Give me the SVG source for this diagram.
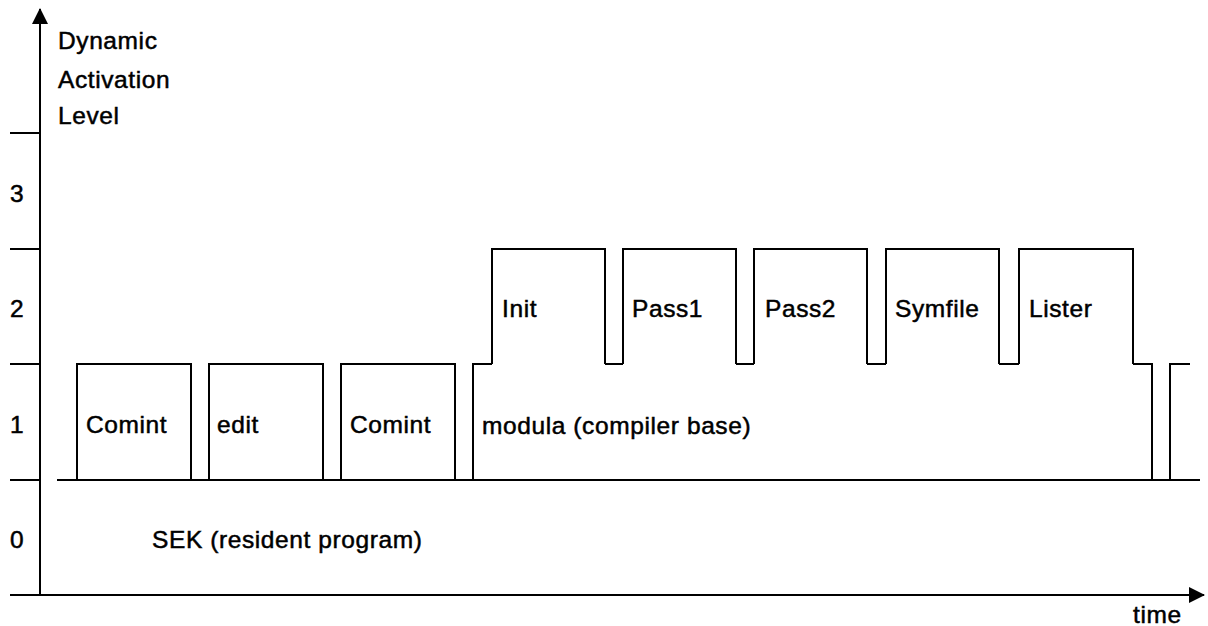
<svg xmlns="http://www.w3.org/2000/svg" width="1208" height="626" viewBox="0 0 1208 626">
<defs>
<style>
.ln{fill:none;stroke:#000;stroke-width:2;stroke-linejoin:miter}
text{font-family:"Liberation Sans",Arial,sans-serif;font-size:24.5px;fill:#000;stroke:#000;stroke-width:0.5px;letter-spacing:0.6px}
</style>
<marker id="ah" viewBox="0 0 16 16" refX="15" refY="8" markerWidth="16" markerHeight="16" markerUnits="userSpaceOnUse" orient="auto">
<path d="M0,0 L16,8 L0,16 Z" fill="#000"/>
</marker>
</defs>
<rect width="1208" height="626" fill="#fff"/>
<g id="axes">
<line class="ln" x1="40" y1="596" x2="40" y2="9" marker-end="url(#ah)"/>
<line class="ln" x1="10" y1="595" x2="1204" y2="595" marker-end="url(#ah)"/>
<path class="ln" d="M10,133 H40 M10,249 H40 M10,364 H40 M10,480 H40"/>
<text x="58" y="49">Dynamic</text>
<text x="58" y="88">Activation</text>
<text x="58" y="124">Level</text>
<text x="10" y="202">3</text>
<text x="10" y="317">2</text>
<text x="10" y="433">1</text>
<text x="10" y="548">0</text>
<text x="1133" y="623">time</text>
</g>
<g id="connectors">
<line class="ln" x1="57" y1="480" x2="1200" y2="480"/>
</g>
<g id="sek"><text x="152" y="548">SEK (resident program)</text></g>
<g id="comint1"><path class="ln" d="M77,480 V364 H191 V480"/><text x="86" y="433">Comint</text></g>
<g id="edit"><path class="ln" d="M209,480 V364 H323 V480"/><text x="217" y="433">edit</text></g>
<g id="comint2"><path class="ln" d="M341,480 V364 H455 V480"/><text x="350" y="433">Comint</text></g>
<g id="modula"><path class="ln" d="M473,480 V364 H492 M605,364 H623 M736,364 H754 M867,364 H886 M999,364 H1019 M1133,364 H1152 V480"/><text x="482" y="434">modula (compiler base)</text></g>
<g id="init"><path class="ln" d="M492,364 V249 H605 V364"/><text x="502" y="317">Init</text></g>
<g id="pass1"><path class="ln" d="M623,364 V249 H736 V364"/><text x="632" y="317">Pass1</text></g>
<g id="pass2"><path class="ln" d="M754,364 V249 H867 V364"/><text x="765" y="317">Pass2</text></g>
<g id="symfile"><path class="ln" d="M886,364 V249 H999 V364"/><text x="895" y="317">Symfile</text></g>
<g id="lister"><path class="ln" d="M1019,364 V249 H1133 V364"/><text x="1029" y="317">Lister</text></g>
<g id="next"><path class="ln" d="M1170,480 V364 H1190"/></g>
</svg>
